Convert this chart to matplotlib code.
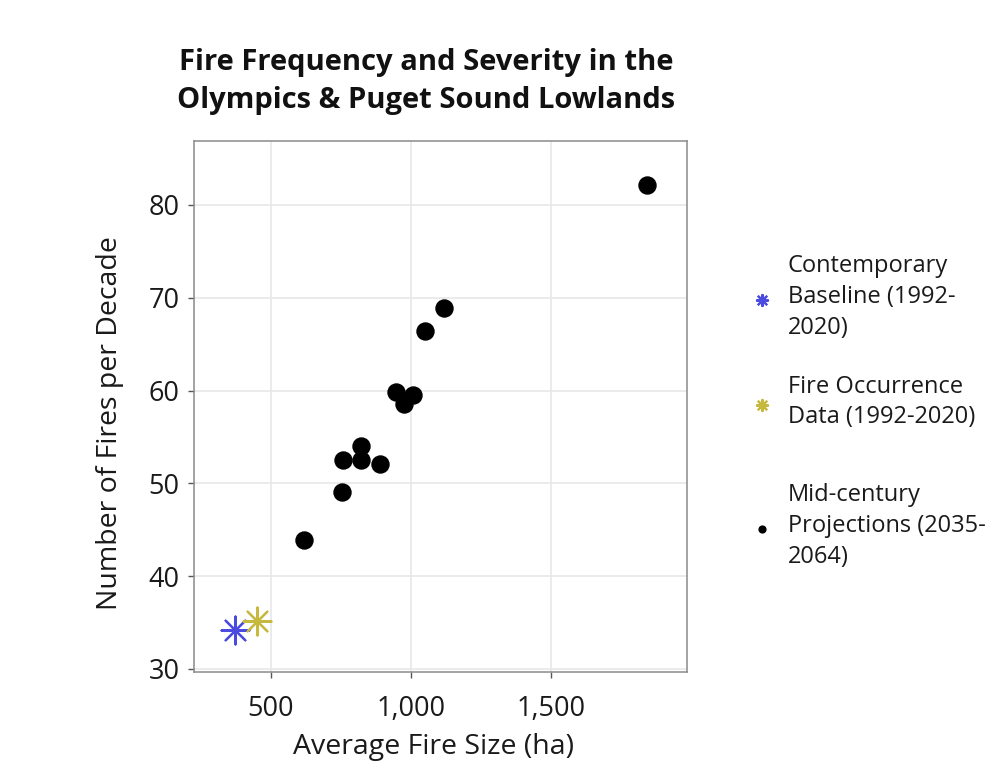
import matplotlib
matplotlib.use("Agg")
import matplotlib.pyplot as plt
from matplotlib.ticker import FuncFormatter

plt.rcParams['font.family'] = ['Open Sans', 'DejaVu Sans']

# Data
proj_size = [1843, 1117, 1049, 945, 1006, 976, 820, 759, 820, 889, 753, 619]
proj_fires = [82.2, 68.9, 66.4, 59.8, 59.5, 58.6, 54.0, 52.5, 52.5, 52.1, 49.1, 43.9]
base_size = [373]
base_fires = [34.2]
occ_size = [450]
occ_fires = [35.2]

labels = ["Contemporary\nBaseline (1992-\n2020)",
          "Fire Occurrence\nData (1992-2020)",
          "Mid-century\nProjections (2035-\n2064)"]
x_ticks = [500, 1000, 1500]
y_ticks = [30, 40, 50, 60, 70, 80]

fig = plt.figure(figsize=(10.05, 7.84), dpi=100)
fig.patch.set_facecolor('white')
ax = fig.add_axes([0.193, 0.1429, 0.4906, 0.6773])

ast = (8, 2, 0)
h1 = ax.scatter(base_size, base_fires, marker=ast, s=400, color='#4b4be0', linewidths=1.6, label=labels[0], zorder=3)
h2 = ax.scatter(occ_size, occ_fires, marker=ast, s=400, color='#c6b93e', linewidths=1.6, label=labels[1], zorder=3)
h3 = ax.scatter(proj_size, proj_fires, marker='o', s=150, color='black', label=labels[2], zorder=3)

ax.set_xlim(226, 1984)
ax.set_ylim(29.68, 86.9)
ax.set_xticks(x_ticks)
ax.set_yticks(y_ticks)
ax.xaxis.set_major_formatter(FuncFormatter(lambda v, p: f"{int(v):,}"))
ax.grid(True, color='#e8e8e8', linewidth=1.2)
ax.set_axisbelow(True)
for s in ax.spines.values():
    s.set_color('#8a8a8a')
    s.set_linewidth(1.1)
ax.tick_params(axis='both', labelsize=19.5, colors='#555555', length=4.3, width=1, labelcolor='#1a1a1a')
ax.tick_params(axis='y', pad=6)
ax.tick_params(axis='x', pad=12)

ax.set_xlabel("Average Fire Size (ha)", fontsize=20.5, color='#1a1a1a', labelpad=4)
ax.xaxis.set_label_coords(0.485, -0.115)
ax.set_ylabel("Number of Fires per Decade", fontsize=20.5, color='#1a1a1a')
ax.yaxis.set_label_coords(-0.142, 0.469)

fig.text(0.424, 0.896, "Fire Frequency and Severity in the\nOlympics & Puget Sound Lowlands",
         ha='center', va='center', fontsize=21, fontweight='bold', linespacing=1.4, color='#111111')

handles = [h1, h2, h3]
centers = [297, 402, 526]
for h, lab, yc in zip(handles, labels, centers):
    leg = fig.legend(handles=[h], labels=[lab], loc='center left',
                     bbox_to_anchor=(0.746, 1 - yc / 784), frameon=False, fontsize=17,
                     handletextpad=0.62, markerscale=0.4,
                     borderaxespad=0, borderpad=0, handlelength=1.0)
    for t in leg.get_texts():
        t.set_color('#1a1a1a')
        t.set_linespacing(1.37)

fig.savefig("out.png", dpi=100, facecolor='white')
